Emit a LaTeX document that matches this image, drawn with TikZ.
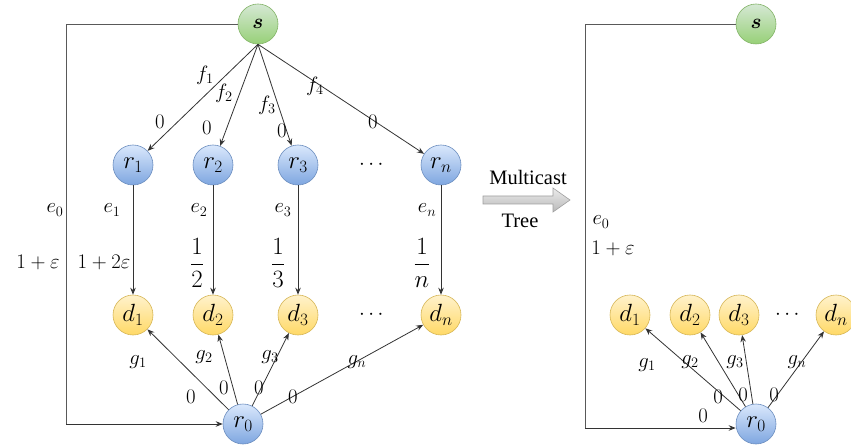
\documentclass[tikz,border=0pt]{standalone}
\usepackage{amsmath}
\usepackage{fontspec}
\setmainfont{Liberation Serif}
\usetikzlibrary{arrows.meta,shadings}
\definecolor{gTop}{HTML}{D5E8D4}
\definecolor{gBot}{HTML}{97D077}
\definecolor{gLine}{HTML}{82B366}
\definecolor{bTop}{HTML}{DAE8FC}
\definecolor{bBot}{HTML}{7EA6E0}
\definecolor{bLine}{HTML}{6C8EBF}
\definecolor{yTop}{HTML}{FFF2CC}
\definecolor{yBot}{HTML}{FFD966}
\definecolor{yLine}{HTML}{D6B656}
\tikzset{
  vtx/.style={circle, minimum size=40pt, inner sep=0pt, line width=0.6pt, font=\fontsize{24}{28}\selectfont},
  gnode/.style={vtx, draw=gLine, top color=gTop, bottom color=gBot, font=\fontsize{21}{24}\selectfont},
  bnode/.style={vtx, draw=bLine, top color=bTop, bottom color=bBot},
  ynode/.style={vtx, draw=yLine, top color=yTop, bottom color=yBot},
  lbl/.style={inner sep=0pt, font=\fontsize{21.5}{25}\selectfont},
  frac/.style={inner sep=0pt, font=\fontsize{24}{28}\selectfont},
  arr/.style={draw=black!80, line width=0.8pt, -{Stealth[length=7pt,width=5.5pt]}},
  ln/.style={draw=black!65, line width=0.8pt},
}
\begin{document}
\begin{tikzpicture}[x=1pt,y=-1pt]
\useasboundingbox (0,0) rectangle (851,446);
% ---------- left graph ----------
\node[gnode] (s) at (258,24) {$\boldsymbol{s}$};
\node[bnode] (r1) at (133,165) {$r_1$};
\node[bnode] (r2) at (213,165) {$r_2$};
\node[bnode] (r3) at (298,165) {$r_3$};
\node[lbl] (rdots) at (373,165) {$\cdots$};
\node[bnode] (rn) at (441,165) {$r_n$};
\node[ynode] (d1) at (133,315) {$d_1$};
\node[ynode] (d2) at (213,315) {$d_2$};
\node[ynode] (d3) at (298,315) {$d_3$};
\node[lbl] (ddots) at (373,315) {$\cdots$};
\node[ynode] (dn) at (441,315) {$d_n$};
\node[bnode] (r0) at (243,424) {$r_0$};
\coordinate (cL1) at (66,24);
\coordinate (cL2) at (66,424);
\draw[ln] (s.west) -- (cL1) -- (cL2);
\draw[arr] (cL2) -- (r0.west);
\foreach \t in {r1,r2,r3,rn} \draw[arr] (s.south) -- (\t);
\draw[arr] (r1) -- (d1);
\draw[arr] (r2) -- (d2);
\draw[arr] (r3) -- (d3);
\draw[arr] (rn) -- (dn);
\foreach \t in {d1,d2,d3,dn} \draw[arr] (r0) -- (\t);
% labels left
\node[lbl] (lf1) at (205,75) {$f_1$};
\node[lbl] (lf2) at (224,93) {$f_2$};
\node[lbl] (lf3) at (267,105) {$f_3$};
\node[lbl] (lf4) at (315,86) {$f_4$};
\node[lbl] (lz1) at (160,122) {$0$};
\node[lbl] (lz2) at (207,128) {$0$};
\node[lbl] (lz3) at (282,131) {$0$};
\node[lbl] (lz4) at (373,122) {$0$};
\node[lbl] (le0) at (55,210) {$e_0$};
\node[lbl] (le1) at (112,210) {$e_1$};
\node[lbl] (le2) at (199,210) {$e_2$};
\node[lbl] (le3) at (283,210) {$e_3$};
\node[lbl] (len) at (427,210) {$e_n$};
\node[lbl] (lc0) at (38,262) {$1+\varepsilon$};
\node[lbl] (lc1) at (104,262) {$1+2\varepsilon$};
\node[frac] (lc2) at (197,263) {$\dfrac{1}{2}$};
\node[frac] (lc3) at (278,263) {$\dfrac{1}{3}$};
\node[frac] (lcn) at (422,263) {$\dfrac{1}{n}$};
\node[lbl] (lg1) at (138,362) {$g_1$};
\node[lbl] (lg2) at (204,357) {$g_2$};
\node[lbl] (lg3) at (270,357) {$g_3$};
\node[lbl] (lgn) at (357,362) {$g_n$};
\node[lbl] (lw1) at (191,397) {$0$};
\node[lbl] (lw2) at (224,388) {$0$};
\node[lbl] (lw3) at (259,388) {$0$};
\node[lbl] (lw4) at (293,397) {$0$};
% ---------- block arrow ----------
\shade[top color=gray!15, bottom color=gray!55, draw=gray!75, line width=0.6pt]
  (483,196) -- (553,196) -- (553,188) -- (570,200) -- (553,212) -- (553,204) -- (483,204) -- cycle;
\node[inner sep=0pt, font=\fontsize{20.5}{24}\selectfont] (mc) at (528,177) {Multicast};
\node[inner sep=0pt, font=\fontsize{20.5}{24}\selectfont] (tr) at (520,221) {Tree};
% ---------- right graph ----------
\node[gnode] (sR) at (756,24) {$\boldsymbol{s}$};
\node[ynode] (dR1) at (630,315) {$d_1$};
\node[ynode] (dR2) at (690,315) {$d_2$};
\node[ynode] (dR3) at (739,315) {$d_3$};
\node[lbl] (dRdots) at (789,315) {$\cdots$};
\node[ynode] (dRn) at (836,315) {$d_n$};
\node[bnode] (r0R) at (756,424) {$r_0$};
\coordinate (cR1) at (585,24);
\coordinate (cR2) at (585,428);
\draw[ln] (sR.west) -- (cR1) -- (cR2);
\draw[arr] (cR2) -- (r0R.west |- cR2);
\foreach \t in {dR1,dR2,dR3,dRn} \draw[arr] (r0R) -- (\t);
\node[lbl] (re0) at (601,222) {$e_0$};
\node[lbl] (rc0) at (613,248) {$1+\varepsilon$};
\node[lbl] (rg1) at (647,365) {$g_1$};
\node[lbl] (rg2) at (690,362) {$g_2$};
\node[lbl] (rg3) at (735,362) {$g_3$};
\node[lbl] (rgn) at (797,362) {$g_n$};
\node[lbl] (rw1) at (703,416) {$0$};
\node[lbl] (rw2) at (718,397) {$0$};
\node[lbl] (rw3) at (743,395) {$0$};
\node[lbl] (rw4) at (774,395) {$0$};
\end{tikzpicture}
\end{document}
